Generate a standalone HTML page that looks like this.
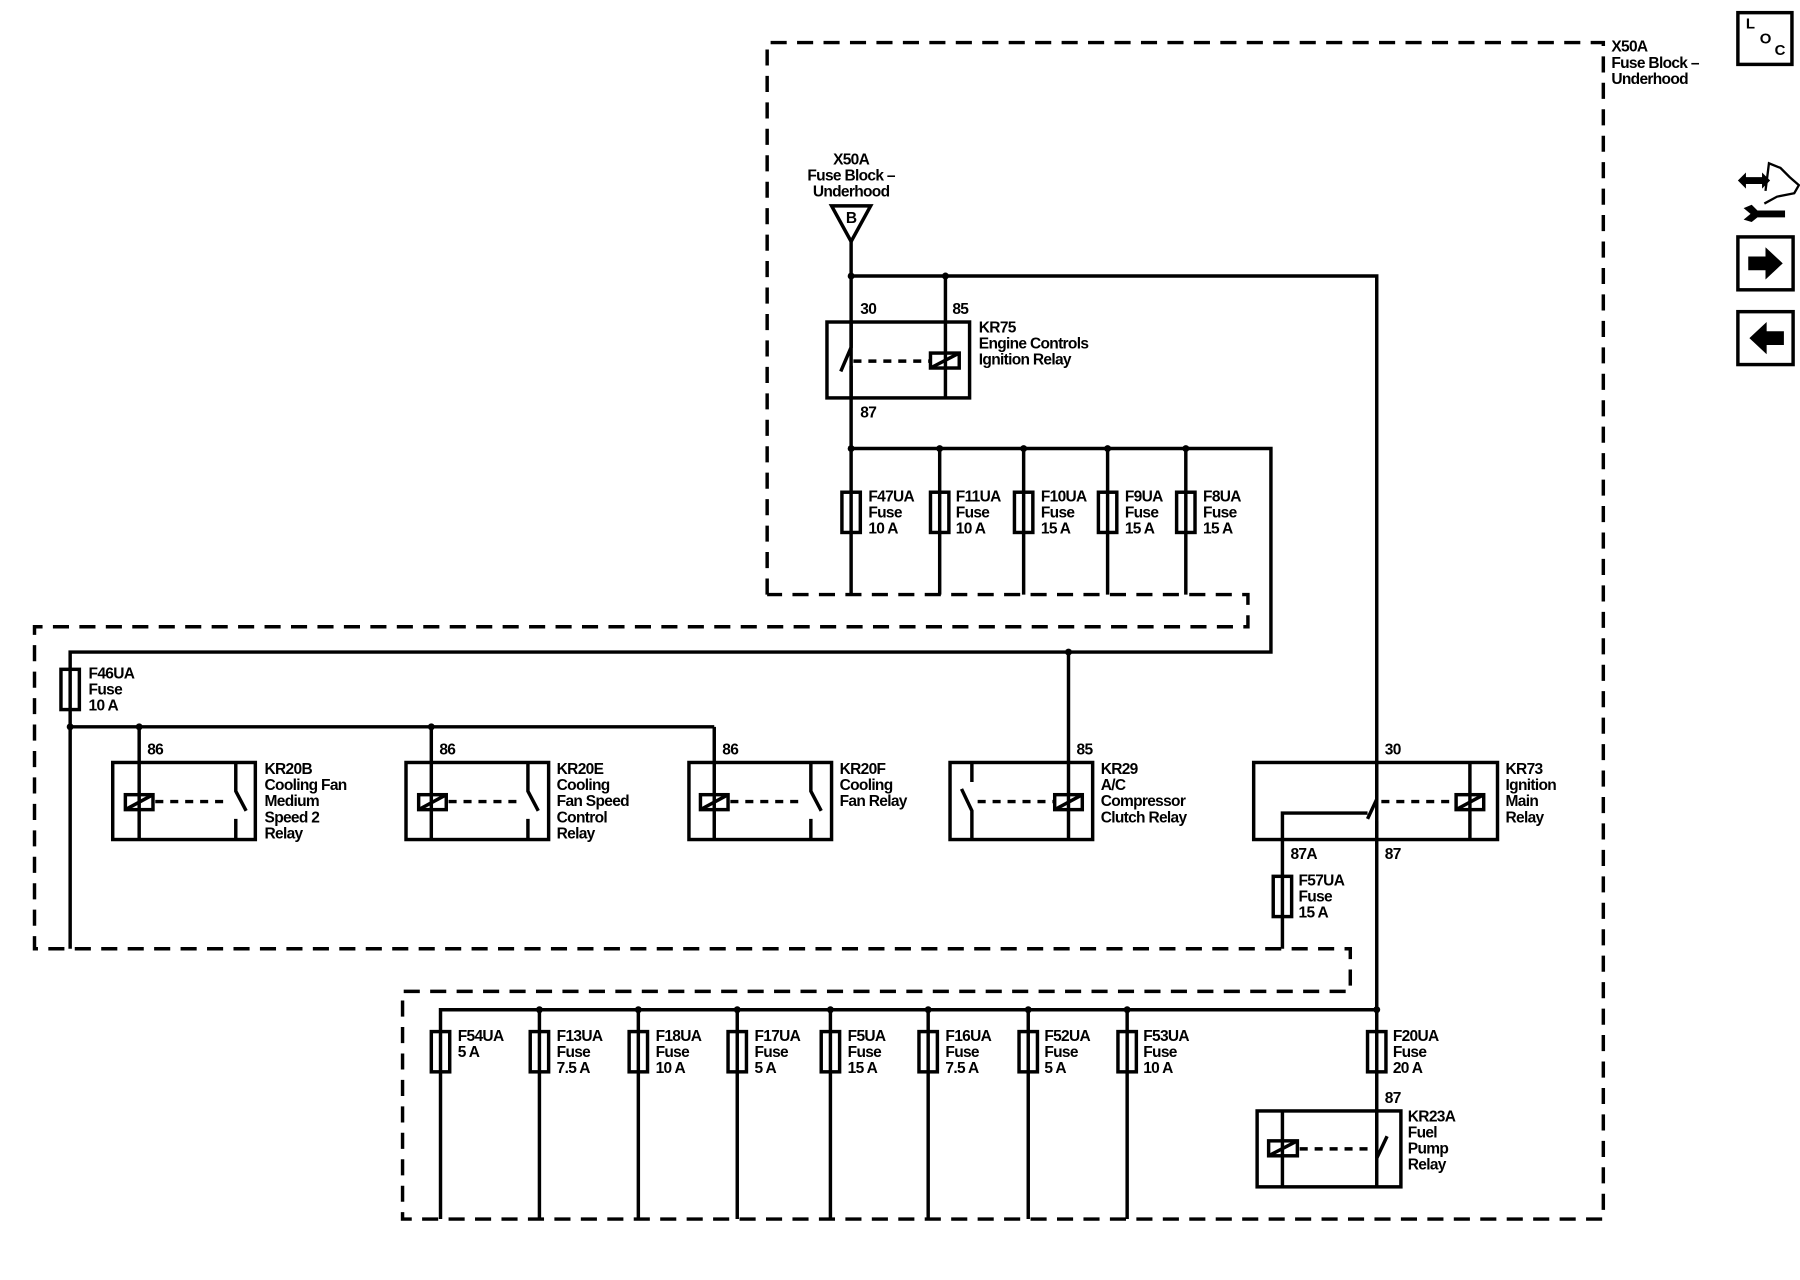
<!DOCTYPE html>
<html><head><meta charset="utf-8"><style>
html,body{margin:0;padding:0;background:#fff;width:1800px;height:1280px;overflow:hidden}
svg{display:block}
text{font-family:"Liberation Sans",Arial,sans-serif;font-size:13.5px;font-weight:bold;letter-spacing:-0.6px;fill:#000}
</style></head><body>
<svg width="1800" height="1280" viewBox="0 0 1565 1113" preserveAspectRatio="none" xmlns="http://www.w3.org/2000/svg">
<g fill="none" stroke="#000" stroke-width="3" stroke-dasharray="14,9">
<path d="M667,517 V37 H1394 V1060 H350 V862 H1174 V825 H30 V545 H1085 V517 H667"/>
</g>
<g fill="none" stroke="#000" stroke-width="3">
<polygon points="723,179 757,179 740,210"/>
<path d="M740,210 V390 M740,240 H1197 V878 M822,240 V346"/>
<rect x="719" y="280" width="124" height="66"/>
<path d="M740,280 V302 L731,323 M740,318 V346"/>
<rect x="809" y="307" width="25" height="13"/>
<path d="M809,320 L834,307"/>
<path d="M740,390 H1105 V567 H61 V825 M740,390 V517 M817,390 V517 M890,390 V517 M963,390 V517 M1031,390 V517"/>
<rect x="732" y="428" width="16" height="35"/><rect x="809" y="428" width="16" height="35"/>
<rect x="882" y="428" width="16" height="35"/><rect x="955" y="428" width="16" height="35"/>
<rect x="1023" y="428" width="16" height="35"/>
<rect x="53" y="582" width="16" height="35"/>
<path d="M61,632 H621 M121,632 V730 M375,632 V730 M621,632 V730 M929,567 V730"/>
<rect x="98" y="663" width="124" height="67"/><rect x="353" y="663" width="124" height="67"/>
<rect x="599" y="663" width="124" height="67"/><rect x="826" y="663" width="124" height="67"/>
<rect x="1090" y="663" width="212" height="67"/>
<rect x="109" y="691" width="24" height="13"/><path d="M109,704 L133,691"/>
<rect x="364" y="691" width="24" height="13"/><path d="M364,704 L388,691"/>
<rect x="609" y="691" width="24" height="13"/><path d="M609,704 L633,691"/>
<rect x="917" y="691" width="24" height="13"/><path d="M917,704 L941,691"/>
<rect x="1266" y="691" width="24" height="13"/><path d="M1266,704 L1290,691"/>
<path d="M1278,663 V730"/>
<path d="M205,663 V688 L214,705 M205,712 V730"/>
<path d="M459,663 V688 L468,705 M459,712 V730"/>
<path d="M705,663 V688 L714,705 M705,712 V730"/>
<path d="M845,730 V705 L836,686 M845,680 V663"/>
<path d="M1197,663 V695 L1189,712 M1197,714 V730 M1189,707 H1115 V825"/>
<rect x="1107" y="762" width="16" height="35"/>
<path d="M383,1060 V878 H1197 M469,878 V1060 M555,878 V1060 M641,878 V1060 M722,878 V1060 M807,878 V1060 M894,878 V1060 M980,878 V1060 M1197,878 V1032"/>
<rect x="375" y="897" width="16" height="35"/><rect x="461" y="897" width="16" height="35"/>
<rect x="547" y="897" width="16" height="35"/><rect x="633" y="897" width="16" height="35"/>
<rect x="714" y="897" width="16" height="35"/><rect x="799" y="897" width="16" height="35"/>
<rect x="886" y="897" width="16" height="35"/><rect x="972" y="897" width="16" height="35"/>
<rect x="1189" y="897" width="16" height="35"/>
<rect x="1093" y="966" width="125" height="66"/>
<path d="M1115,966 V1032"/>
<rect x="1103" y="992" width="25" height="13"/><path d="M1103,1005 L1128,992"/>
<path d="M1197,966 V1007 L1206,988"/>
<rect x="1511" y="11" width="47" height="45"/>
<rect x="1511" y="206" width="48" height="46"/>
<rect x="1511" y="271" width="48" height="46"/>
</g>
<g fill="none" stroke="#000" stroke-width="3" stroke-dasharray="7,6">
<path d="M742,314 H808 M135,697 H200 M390,697 H454 M635,697 H700 M850,697 H916 M1201,697 H1265 M1130,999 H1195"/>
</g>
<g fill="#000">
<circle cx="740" cy="240" r="3"/><circle cx="822" cy="240" r="3"/>
<circle cx="740" cy="390" r="3"/><circle cx="817" cy="390" r="3"/><circle cx="890" cy="390" r="3"/><circle cx="963" cy="390" r="3"/><circle cx="1031" cy="390" r="3"/>
<circle cx="929" cy="567" r="3"/><circle cx="61" cy="632" r="3"/><circle cx="121" cy="632" r="3"/><circle cx="375" cy="632" r="3"/>
<circle cx="469" cy="878" r="3"/><circle cx="555" cy="878" r="3"/><circle cx="641" cy="878" r="3"/><circle cx="722" cy="878" r="3"/><circle cx="807" cy="878" r="3"/><circle cx="894" cy="878" r="3"/><circle cx="980" cy="878" r="3"/><circle cx="1197" cy="878" r="3"/>
<polygon points="1520,223 1535,223 1535,215 1550,229 1535,243 1535,235 1520,235"/>
<polygon points="1551,288 1536,288 1536,280 1521,294 1536,308 1536,300 1551,300"/>
<path d="M1511,157 L1518,150 V154 H1532 V150 L1539,157 L1532,164 V160 H1518 V164 Z"/>
<path d="M1516,181 L1523,178 L1528,183 H1552 V189 H1528 L1523,193 L1516,191 L1522,186 Z"/>
</g>
<path d="M1535,166 L1538,142 L1548,146 L1556,154 L1564,161 L1560,168 L1545,171 L1534,177" fill="none" stroke="#000" stroke-width="2"/>
<text x="1518" y="25" style="font-size:13px">L</text><text x="1530" y="38" style="font-size:13px">O</text><text x="1543" y="48" style="font-size:13px">C</text>
<text x="1401" y="45">X50A</text><text x="1401" y="59">Fuse Block –</text><text x="1401" y="73">Underhood</text>
<g text-anchor="middle"><text x="740" y="143">X50A</text><text x="740" y="157">Fuse Block –</text><text x="740" y="171">Underhood</text><text x="740" y="194">B</text></g>
<text x="748" y="273">30</text><text x="828" y="273">85</text><text x="748" y="363">87</text>
<text x="851" y="289">KR75</text><text x="851" y="303">Engine Controls</text><text x="851" y="317">Ignition Relay</text>
<text x="755" y="436">F47UA</text><text x="755" y="450">Fuse</text><text x="755" y="464">10 A</text>
<text x="831" y="436">F11UA</text><text x="831" y="450">Fuse</text><text x="831" y="464">10 A</text>
<text x="905" y="436">F10UA</text><text x="905" y="450">Fuse</text><text x="905" y="464">15 A</text>
<text x="978" y="436">F9UA</text><text x="978" y="450">Fuse</text><text x="978" y="464">15 A</text>
<text x="1046" y="436">F8UA</text><text x="1046" y="450">Fuse</text><text x="1046" y="464">15 A</text>
<text x="77" y="590">F46UA</text><text x="77" y="604">Fuse</text><text x="77" y="618">10 A</text>
<text x="128" y="656">86</text><text x="382" y="656">86</text><text x="628" y="656">86</text><text x="936" y="656">85</text><text x="1204" y="656">30</text>
<text x="230" y="673">KR20B</text><text x="230" y="687">Cooling Fan</text><text x="230" y="701">Medium</text><text x="230" y="715">Speed 2</text><text x="230" y="729">Relay</text>
<text x="484" y="673">KR20E</text><text x="484" y="687">Cooling</text><text x="484" y="701">Fan Speed</text><text x="484" y="715">Control</text><text x="484" y="729">Relay</text>
<text x="730" y="673">KR20F</text><text x="730" y="687">Cooling</text><text x="730" y="701">Fan Relay</text>
<text x="957" y="673">KR29</text><text x="957" y="687">A/C</text><text x="957" y="701">Compressor</text><text x="957" y="715">Clutch Relay</text>
<text x="1309" y="673">KR73</text><text x="1309" y="687">Ignition</text><text x="1309" y="701">Main</text><text x="1309" y="715">Relay</text>
<text x="1122" y="747">87A</text><text x="1204" y="747">87</text>
<text x="1129" y="770">F57UA</text><text x="1129" y="784">Fuse</text><text x="1129" y="798">15 A</text>
<text x="398" y="905">F54UA</text><text x="398" y="919">5 A</text>
<text x="484" y="905">F13UA</text><text x="484" y="919">Fuse</text><text x="484" y="933">7.5 A</text>
<text x="570" y="905">F18UA</text><text x="570" y="919">Fuse</text><text x="570" y="933">10 A</text>
<text x="656" y="905">F17UA</text><text x="656" y="919">Fuse</text><text x="656" y="933">5 A</text>
<text x="737" y="905">F5UA</text><text x="737" y="919">Fuse</text><text x="737" y="933">15 A</text>
<text x="822" y="905">F16UA</text><text x="822" y="919">Fuse</text><text x="822" y="933">7.5 A</text>
<text x="908" y="905">F52UA</text><text x="908" y="919">Fuse</text><text x="908" y="933">5 A</text>
<text x="994" y="905">F53UA</text><text x="994" y="919">Fuse</text><text x="994" y="933">10 A</text>
<text x="1211" y="905">F20UA</text><text x="1211" y="919">Fuse</text><text x="1211" y="933">20 A</text>
<text x="1204" y="959">87</text>
<text x="1224" y="975">KR23A</text><text x="1224" y="989">Fuel</text><text x="1224" y="1003">Pump</text><text x="1224" y="1017">Relay</text>
</svg>
</body></html>
